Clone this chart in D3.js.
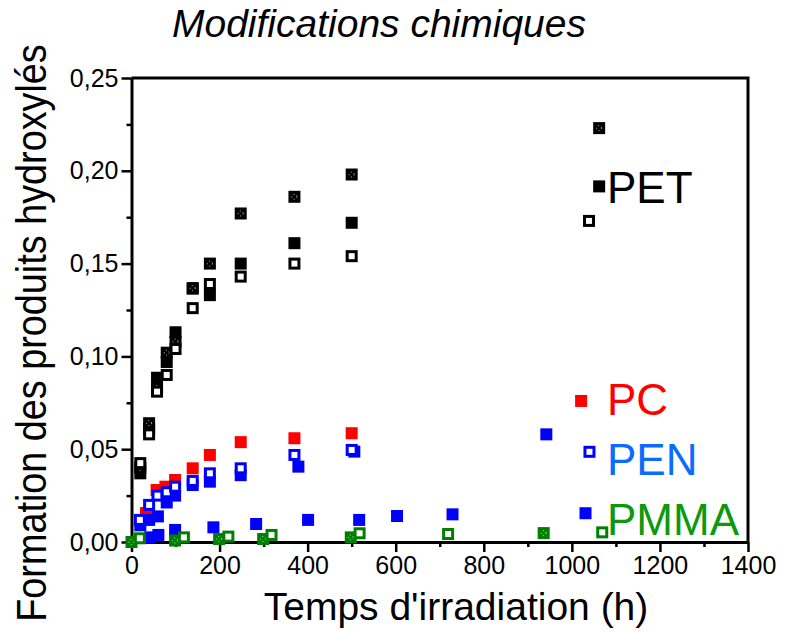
<!DOCTYPE html>
<html>
<head>
<meta charset="utf-8">
<script src="https://cdn.jsdelivr.net/npm/d3@7"></script>
<style>
  body { margin: 0; background: #fff; }
  text { font-family: "Liberation Sans", Arial, sans-serif; }
</style>
</head>
<body>
<script>
// data: irradiation time (h) and value
var petTimes = [20, 40, 58, 80, 100, 139, 178, 248, 370, 500];
var petSolid = [0.037, 0.061, 0.0885, 0.097, 0.113, 0.1365, 0.133, 0.150, 0.161, 0.172];
var petDotted = [0.040, 0.064, 0.083, 0.102, 0.108, 0.1368, 0.150, 0.177, 0.186, 0.198];
var petOpen = [0.0425, 0.058, 0.081, 0.090, 0.104, 0.126, 0.139, 0.143, 0.150, 0.154];
var petExtraTimes = [1062, 1062, 1039];
var petExtraValues = [0.1916, 0.223, 0.173];

var pcTimes = [33, 57, 77, 99, 139, 178, 248, 370, 500, 1021];
var pcValues = [0.0156, 0.028, 0.0298, 0.0334, 0.0397, 0.0469, 0.0538, 0.0559, 0.0586, 0.076];

var penOpenTimes = [19, 40, 59, 80, 99, 139, 178, 248, 370, 500, 1040];
var penOpenValues = [0.0119, 0.020, 0.025, 0.0268, 0.0298, 0.0329, 0.037, 0.0397, 0.0469, 0.0496, 0.0486];
var penFullTimes = [20, 40, 60, 80, 99, 139, 178, 248, 379, 506, 942];
var penFullValues = [0.009, 0.0119, 0.0138, 0.0213, 0.025, 0.0307, 0.0325, 0.036, 0.0406, 0.0487, 0.058];
var blueLowTimes = [42, 61, 99, 186, 283, 401, 517, 603, 729, 1031];
var blueLowValues = [0.0025, 0.0038, 0.0065, 0.0079, 0.0097, 0.0119, 0.0119, 0.014, 0.0149, 0.0155];

var pmmaDotTimes = [0, 99, 199, 299, 498, 936];
var pmmaDotValues = [0.0, 0.0008, 0.0016, 0.0016, 0.0025, 0.0048];
var pmmaOpenTimes = [19, 119, 220, 318, 518, 719, 1069];
var pmmaOpenValues = [0.002, 0.0025, 0.0029, 0.0038, 0.0047, 0.0043, 0.0052];

var xTicks = [0, 200, 400, 600, 800, 1000, 1200, 1400];
var xMinor = [100, 300, 500, 700, 900, 1100, 1300];
var yTicks = [0, 0.05, 0.10, 0.15, 0.20, 0.25];
var yMinor = [0.025, 0.075, 0.125, 0.175, 0.225];

var labels = ["PET", "PC", "PEN", "PMMA"];
var labelValues = [0.1827, 0.0684, 0.0361, 0.0038];
var labelColors = ["#000000", "#ff0000", "#0a6cff", "#0c990c"];

var width = 787, height = 633;
var svg = d3.select('body').append('svg').attr('width', width).attr('height', height);

var x = d3.scaleLinear().domain([0, 1400]).range([131.5, 748]);
var y = d3.scaleLinear().domain([0, 0.25]).range([542, 78]);

function zip(ts, vs) { return ts.map((t, i) => ({t: t, v: vs[i]})); }

// title
svg.append('text')
  .attr('x', 379).attr('y', 37)
  .attr('text-anchor', 'middle')
  .style('font-size', '39px').style('font-style', 'italic')
  .text('Modifications chimiques');

// axes
var fmt = d => d.toFixed(2).replace('.', ',');

svg.append('g').attr('transform', 'translate(0,' + y(0) + ')')
  .call(d3.axisBottom(x).tickValues(xTicks).tickSize(10).tickSizeOuter(0).tickPadding(4).tickFormat(d3.format('d')));
var mx = svg.append('g').attr('transform', 'translate(0,' + y(0) + ')')
  .call(d3.axisBottom(x).tickValues(xMinor).tickSize(5).tickFormat(''));
mx.select('.domain').remove();
mx.selectAll('text').remove();

svg.append('g').attr('transform', 'translate(' + x(0) + ',0)')
  .call(d3.axisLeft(y).tickValues(yTicks).tickSize(10).tickSizeOuter(0).tickPadding(3).tickFormat(fmt));
var my = svg.append('g').attr('transform', 'translate(' + x(0) + ',0)')
  .call(d3.axisLeft(y).tickValues(yMinor).tickSize(5).tickFormat(''));
my.select('.domain').remove();
my.selectAll('text').remove();

svg.selectAll('.domain').attr('stroke-width', 3);
svg.selectAll('.tick line').attr('stroke-width', 2.5);
svg.selectAll('.tick text').style('font-size', '25px').attr('fill', '#000')
  .style('font-family', '"Liberation Sans", Arial, sans-serif');

// frame top and right
svg.append('path')
  .attr('d', 'M' + x(0) + ',' + y(0.25) + 'H' + x(1400) + 'V' + y(0))
  .attr('fill', 'none').attr('stroke', '#000').attr('stroke-width', 3);

// axis titles
svg.append('text')
  .attr('x', 456).attr('y', 620)
  .attr('text-anchor', 'middle')
  .style('font-size', '39px')
  .text("Temps d'irradiation (h)");

svg.append('text')
  .attr('transform', 'translate(46,' + 333 + ') rotate(-90) scale(0.9,1)')
  .attr('text-anchor', 'middle')
  .style('font-size', '42px')
  .text('Formation des produits hydroxylés');

// markers
var S = 12;
function drawSeries(data, color, kind) {
  var g = svg.append('g');
  var sel = g.selectAll('g').data(data).enter().append('g')
    .attr('transform', d => 'translate(' + x(d.t) + ',' + y(d.v) + ')');
  if (kind === 'open') {
    sel.append('rect').attr('x', -S / 2 + 1.5).attr('y', -S / 2 + 1.5)
      .attr('width', S - 3).attr('height', S - 3)
      .attr('fill', '#fff').attr('stroke', color).attr('stroke-width', 3);
  } else {
    sel.append('rect').attr('x', -S / 2).attr('y', -S / 2)
      .attr('width', S).attr('height', S).attr('fill', color);
    if (kind === 'dotted') {
      sel.append('circle').attr('r', 2.5).attr('fill', 'none')
        .attr('stroke', '#fff').attr('stroke-width', 0.8).attr('stroke-dasharray', '1,2.5');
    }
  }
}

drawSeries(zip(petTimes, petSolid).concat([{t: petExtraTimes[0], v: petExtraValues[0]}]), '#000', 'solid');
drawSeries(zip(petTimes, petDotted).concat([{t: petExtraTimes[1], v: petExtraValues[1]}]), '#000', 'dotted');
drawSeries(zip(petTimes, petOpen).concat([{t: petExtraTimes[2], v: petExtraValues[2]}]), '#000', 'open');
drawSeries(zip(pcTimes, pcValues), '#ff0000', 'solid');
drawSeries(zip(penFullTimes, penFullValues), '#0000ff', 'solid');
drawSeries(zip(penOpenTimes, penOpenValues), '#0000ff', 'open');
drawSeries(zip(blueLowTimes, blueLowValues), '#0000ff', 'solid');
drawSeries(zip(pmmaDotTimes, pmmaDotValues), '#008000', 'dotted');
drawSeries(zip(pmmaOpenTimes, pmmaOpenValues), '#008000', 'open');

// series labels
svg.selectAll('.lbl').data(labels).enter().append('text')
  .attr('class', 'lbl')
  .attr('x', 607)
  .attr('y', (d, i) => y(labelValues[i]))
  .attr('fill', (d, i) => labelColors[i])
  .style('font-size', '44px')
  .text(d => d);
</script>
</body>
</html>
